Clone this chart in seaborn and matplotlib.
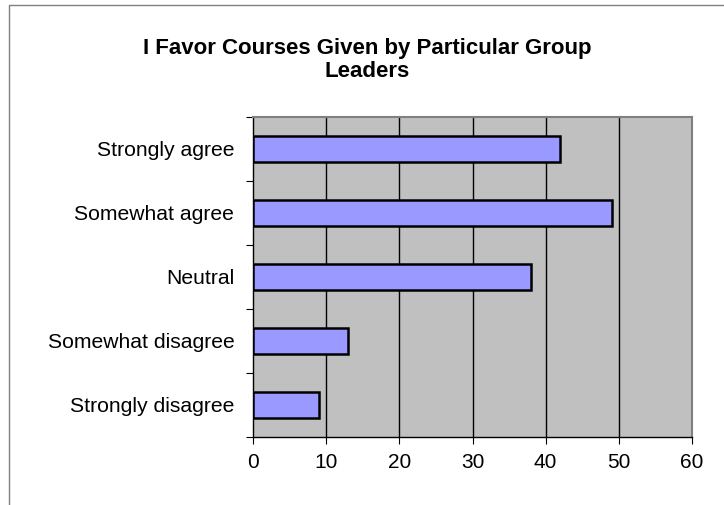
import matplotlib
matplotlib.use("Agg")
import matplotlib.pyplot as plt
import seaborn as sns
import pandas as pd
import numpy as np
from matplotlib.lines import Line2D

categories = ["Strongly agree", "Somewhat agree", "Neutral", "Somewhat disagree", "Strongly disagree"]
values = [42, 49, 38, 13, 9]
x_ticks = [0, 10, 20, 30, 40, 50, 60]
title = "I Favor Courses Given by Particular Group\nLeaders"

sns.set_theme(style="white")
plt.rcParams["font.family"] = ["Liberation Sans", "DejaVu Sans"]

df = pd.DataFrame({"category": categories, "value": values})

W, H = 724, 505
fig = plt.figure(figsize=(W / 100, H / 100), dpi=100)
fig.patch.set_facecolor("white")
ax = fig.add_axes([253 / W, 1 - 437 / H, (692 - 253) / W, (437 - 117) / H])
ax.set_facecolor("#C0C0C0")

sns.barplot(data=df, x="value", y="category", order=categories, orient="h",
            color="#9999FF", saturation=1, width=0.4, edgecolor="black",
            linewidth=1.8, ax=ax, zorder=3)

ax.set_xlim(0, 60)
ax.set_ylim(len(categories) - 0.5, -0.5)
ax.set_xticks(x_ticks)
ax.set_xticklabels([str(t) for t in x_ticks], fontsize=15, color="black")
ax.set_yticks(range(len(categories)))
ax.set_yticklabels(categories, fontsize=15.2, color="black")
ax.set_yticks(np.arange(-0.5, len(categories), 1.0), minor=True)
ax.tick_params(axis="y", which="major", length=0, pad=13.5)
ax.tick_params(axis="y", which="minor", length=5, width=0.8, color="black", direction="out", left=True)
ax.tick_params(axis="x", which="major", length=5, width=0.8, color="black", direction="out", bottom=True, pad=6.5)
ax.set_xlabel("")
ax.set_ylabel("")

ax.grid(False)
for t in x_ticks[1:-1]:
    ax.axvline(t, color="black", linewidth=1.0, zorder=1)

for s in ["left", "bottom"]:
    ax.spines[s].set_visible(True)
    ax.spines[s].set_color("black")
    ax.spines[s].set_linewidth(1.0)
for s in ["top", "right"]:
    ax.spines[s].set_visible(True)
    ax.spines[s].set_color("#808080")
    ax.spines[s].set_linewidth(1.5)

fig.text(367.5 / W, 1 - 60 / H, title, ha="center", va="center",
         fontsize=16, fontweight="bold", color="black", linespacing=1.07)

# outer chart frame (top and left edges visible)
fig.add_artist(Line2D([9 / W, 1.0], [1 - 5 / H, 1 - 5 / H], transform=fig.transFigure,
                      color="#808080", linewidth=1.0))
fig.add_artist(Line2D([9 / W, 9 / W], [0.0, 1 - 5 / H], transform=fig.transFigure,
                      color="#808080", linewidth=1.0))

fig.savefig("out.png", dpi=100, facecolor="white")
